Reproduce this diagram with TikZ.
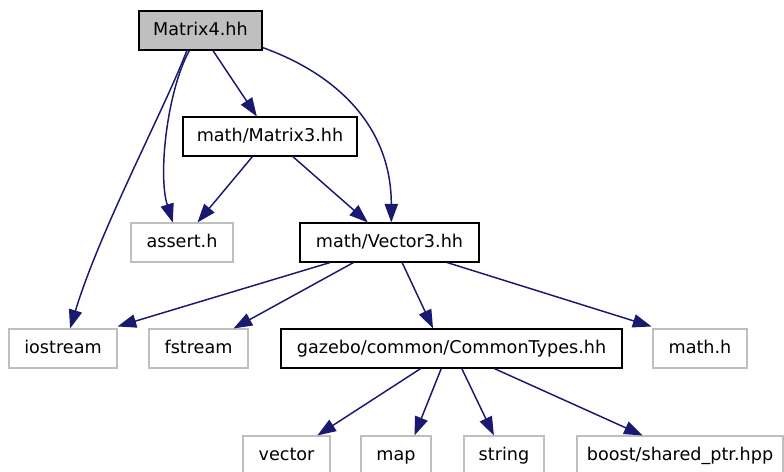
\documentclass[tikz,border=0pt]{standalone}
\usepackage{fontspec}
\setmainfont{DejaVu Sans}
\usetikzlibrary{arrows.meta,calc}
\definecolor{edgec}{HTML}{191970}
\definecolor{grayb}{HTML}{BFBFBF}
\begin{document}
\begin{tikzpicture}[x=0.75pt,y=-0.75pt,
  box/.style={draw=black,line width=0.8pt,minimum height=29.25pt,inner sep=0pt,text height=9.7pt,text depth=2.6pt,font=\fontsize{13.2}{15}\selectfont,text=black},
  extbox/.style={box,draw=grayb},
  edge/.style={draw=edgec,line width=1.1pt,-{Triangle[length=14pt,width=10pt]}}]
\useasboundingbox (0,0) rectangle (784,471);
\node[box,fill=grayb,minimum width=92.25pt] (m4) at (200.5,30.5) {Matrix4.hh};
\node[box,minimum width=130.5pt] (m3) at (270,136.5) {math/Matrix3.hh};
\node[extbox,minimum width=76.5pt] (as) at (182,242.5) {assert.h};
\node[box,minimum width=134.25pt] (v3) at (389.5,242.5) {math/Vector3.hh};
\node[extbox,minimum width=81pt] (io) at (63,348.5) {iostream};
\node[extbox,minimum width=74.25pt] (fs) at (198.5,348.5) {fstream};
\node[box,minimum width=255.75pt] (ct) at (451.5,348.5) {gazebo/common/CommonTypes.hh};
\node[extbox,minimum width=70.5pt] (mh) at (700,348.5) {math.h};
\node[extbox,minimum width=65.25pt] (ve) at (286.5,455.5) {vector};
\node[extbox,minimum width=52.5pt] (mp) at (396,455.5) {map};
\node[extbox,minimum width=60pt] (st) at (504,455.5) {string};
\node[extbox,minimum width=154.5pt] (bo) at (680,455.5) {boost/shared\_ptr.hpp};
% Matrix4 edges
\draw[edge] ($(m4.south west)!0.60!(m4.south east)$) -- ($(m3.north west)!0.425!(m3.north east)$);
\draw[edge] ($(m4.south west)!0.39!(m4.south east)$) .. controls +(-22,58) and +(30,-99) .. ($(io.north west)!0.565!(io.north east)$);
\draw[edge] ($(m4.south west)!0.41!(m4.south east)$) .. controls +(-22,40) and +(-15,-48) .. ($(as.north west)!0.41!(as.north east)$);
\draw[edge] ($(m4.south east)+(0,-3)$) .. controls +(78,28) and +(0,-93) .. ($(v3.north west)!0.51!(v3.north east)$);
% Matrix3 edges
\draw[edge] ($(m3.south west)!0.40!(m3.south east)$) -- ($(as.north west)!0.65!(as.north east)$);
\draw[edge] ($(m3.south west)!0.63!(m3.south east)$) -- ($(v3.north west)!0.38!(v3.north east)$);
% Vector3 edges
\draw[edge] ($(v3.south west)!0.17!(v3.south east)$) -- ($(io.north east)+(0,-2)$);
\draw[edge] ($(v3.south west)!0.30!(v3.south east)$) -- ($(fs.north west)!0.85!(fs.north east)$);
\draw[edge] ($(v3.south west)!0.57!(v3.south east)$) -- ($(ct.north west)!0.446!(ct.north east)$);
\draw[edge] ($(v3.south west)!0.82!(v3.south east)$) -- ($(mh.north west)+(-1,-2)$);
% CommonTypes edges
\draw[edge] ($(ct.south west)!0.41!(ct.south east)$) -- ($(ve.north west)!0.85!(ve.north east)$);
\draw[edge] ($(ct.south west)!0.47!(ct.south east)$) -- ($(mp.north west)!0.76!(mp.north east)$);
\draw[edge] ($(ct.south west)!0.53!(ct.south east)$) -- ($(st.north west)!0.375!(st.north east)$);
\draw[edge] ($(ct.south west)!0.625!(ct.south east)$) -- ($(bo.north west)!0.32!(bo.north east)$);
\end{tikzpicture}
\end{document}
